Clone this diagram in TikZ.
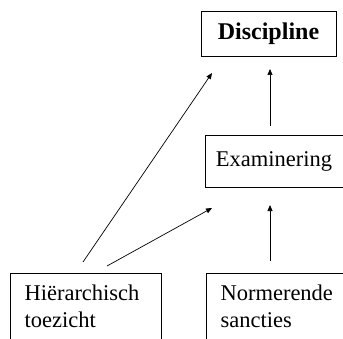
\documentclass[tikz,border=0pt]{standalone}
\usepackage{fontspec}
\setmainfont{Liberation Serif}
\usetikzlibrary{arrows.meta}

\begin{document}
\begin{tikzpicture}[x=1pt,y=1pt,
	box/.style={draw=black,line width=0.8pt,inner sep=0pt,font=\fontsize{22.5}{27}\selectfont},
	arr/.style={line width=0.7pt,-{Triangle[length=6pt,width=5pt]}}]
	\useasboundingbox (0,0) rectangle (343,338);
	\clip (0,0) rectangle (343,338);
	\node[box,minimum width=135,minimum height=45,font=\fontsize{24}{27}\selectfont] (disc) at (268.5,304.5) {\bfseries Discipline};
	\node[box,minimum width=138,minimum height=52] (exam) at (274,177) {Examinering};
	\node[box,minimum width=151,minimum height=100,anchor=north west] (hier) at (10,65) {};
	\node[box,minimum width=150,minimum height=100,anchor=north west] (norm) at (206,65) {};
	\node[font=\fontsize{22.5}{27}\selectfont,align=left,anchor=north west] (hiertxt) at (21,57) {Hiërarchisch\\toezicht};
	\node[font=\fontsize{22.5}{27}\selectfont,align=left,anchor=north west] (normtxt) at (217,57) {Normerende\\sancties};
	\coordinate (h1) at (83,76);
	\coordinate (h2) at (107,72);
	\coordinate (d1) at (212,265);
	\coordinate (e1) at (212,130);
	\coordinate (e2) at (270,212);
	\coordinate (d2) at (270,269);
	\coordinate (n1) at (270,77);
	\coordinate (e3) at (270,133);
	\draw[arr] (h1) -- (d1);
	\draw[arr] (h2) -- (e1);
	\draw[arr] (e2) -- (d2);
	\draw[arr] (n1) -- (e3);
\end{tikzpicture}
\end{document}
